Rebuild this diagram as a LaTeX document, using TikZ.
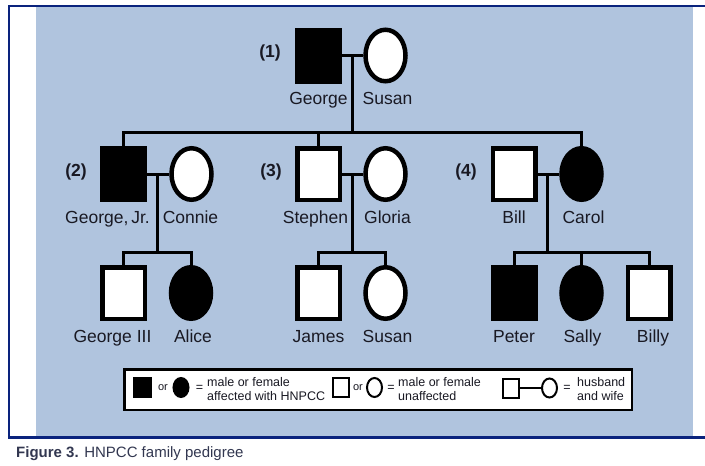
\documentclass[tikz,border=0pt]{standalone}
\usepackage{fontspec}
\setmainfont{Liberation Sans}
\usetikzlibrary{positioning,shapes.geometric}
\definecolor{panelblue}{RGB}{176,196,222}
\definecolor{framenavy}{RGB}{10,35,125}
\definecolor{captiongray}{RGB}{50,55,80}
\definecolor{inkdark}{RGB}{25,25,35}
\begin{document}
\begin{tikzpicture}[
        x=1pt, y=-1pt,
        male/.style={rectangle, draw=black, fill=white, line width=4.5pt, inner sep=0pt, minimum width=42.5pt, minimum height=51.5pt},
        female/.style={ellipse, draw=black, fill=white, line width=4.5pt, inner sep=0pt, minimum width=40pt, minimum height=51.5pt},
        affected/.style={fill=black},
        person/.style={inner sep=0pt, text=inkdark, font=\fontsize{17.5}{20}\selectfont},
        gen/.style={inner sep=0pt, text=inkdark, font=\fontsize{17.5}{20}\selectfont\bfseries},
        tie/.style={draw=black, line width=3pt},
        keybox/.style={rectangle, draw=black, fill=white, line width=2.5pt, minimum width=507.5pt, minimum height=40.5pt},
        keymale/.style={rectangle, draw=black, fill=white, line width=2pt, inner sep=0pt, minimum width=16pt, minimum height=19pt},
        keyfemale/.style={ellipse, draw=black, fill=white, line width=2pt, inner sep=0pt, minimum width=15pt, minimum height=19pt},
        keytext/.style={inner sep=0pt, align=left, anchor=west, text=inkdark, font=\fontsize{12.5}{13.5}\selectfont}
    ]
    \useasboundingbox (0,0) rectangle (705,466);

    % Panel and frame
    \fill[panelblue] (36,6.7) rectangle (693,436.7);
    \draw[framenavy, line width=2.5pt] (705,6) -- (9,6) -- (9,437.5) -- (705,437.5);
    \node[anchor=base west, inner sep=0pt, text=captiongray, font=\fontsize{15}{17}\selectfont] (caption) at (16,457) {\textbf{Figure 3.} HNPCC family pedigree};

    % Generation I
    \node[male, affected] (george) at (318.5,55.5) {};
    \node[female] (susan) at (385.5,55.5) {};
    \node[gen] (g1) at (270,53) {(1)};
    \node[person, below=9pt of george] (georgelbl) {George};
    \node[person, below=9pt of susan, xshift=2pt] (susanlbl) {Susan};

    % Generation II
    \node[male, affected] (georgejr) at (123.5,174) {};
    \node[female] (connie) at (191.5,174) {};
    \node[male] (stephen) at (318.5,174) {};
    \node[female] (gloria) at (385.5,174) {};
    \node[male] (bill) at (514,174) {};
    \node[female, affected] (carol) at (581.5,174) {};
    \node[gen] (g2) at (76,172) {(2)};
    \node[gen] (g3) at (271,172) {(3)};
    \node[gen] (g4) at (466,172) {(4)};
    \node[person, below=9pt of georgejr, xshift=-16pt] (georgejrlbl) {George,\,Jr.};
    \node[person, below=9pt of connie, xshift=-1pt] (connielbl) {Connie};
    \node[person, below=9pt of stephen, xshift=-3pt] (stephenlbl) {Stephen};
    \node[person, below=9pt of gloria, xshift=2pt] (glorialbl) {Gloria};
    \node[person, below=9pt of bill] (billlbl) {Bill};
    \node[person, below=9pt of carol, xshift=2pt] (carollbl) {Carol};

    % Generation III
    \node[male] (georgeiii) at (123.5,293) {};
    \node[female, affected] (alice) at (191,293) {};
    \node[male] (james) at (318.5,293) {};
    \node[female] (susanjr) at (385.5,293) {};
    \node[male, affected] (peter) at (514,293) {};
    \node[female, affected] (sally) at (581.5,293) {};
    \node[male] (billy) at (649,293) {};
    \node[person, below=9pt of georgeiii, xshift=-11pt] (georgeiiilbl) {George III};
    \node[person, below=9pt of alice, xshift=2pt] (alicelbl) {Alice};
    \node[person, below=9pt of james] (jameslbl) {James};
    \node[person, below=9pt of susanjr, xshift=2pt] (susanjrlbl) {Susan};
    \node[person, below=9pt of peter] (peterlbl) {Peter};
    \node[person, below=9pt of sally, xshift=1pt] (sallylbl) {Sally};
    \node[person, below=9pt of billy, xshift=4pt] (billylbl) {Billy};

    % Junctions
    \coordinate (m1) at (352.5,55.5);
    \coordinate (sib1) at (352.5,132);
    \coordinate (m2) at (157.5,174);
    \coordinate (sib2) at (157.5,252);
    \coordinate (m3) at (352.5,174);
    \coordinate (sib3) at (352.5,252);
    \coordinate (m4) at (547,174);
    \coordinate (sib4) at (547,252);

    % Lines
    \draw[tie] (george) -- (susan);
    \draw[tie] (m1) -- (sib1);
    \draw[tie] (georgejr.north) |- (sib1) -| (carol.north);
    \draw[tie] (stephen.north) -- (stephen.north |- sib1);

    \draw[tie] (georgejr) -- (connie);
    \draw[tie] (m2) -- (sib2);
    \draw[tie] (georgeiii.north) |- (sib2) -| (alice.north);

    \draw[tie] (stephen) -- (gloria);
    \draw[tie] (m3) -- (sib3);
    \draw[tie] (james.north) |- (sib3) -| (susanjr.north);

    \draw[tie] (bill) -- (carol);
    \draw[tie] (m4) -- (sib4);
    \draw[tie] (peter.north) |- (sib4) -| (billy.north);
    \draw[tie] (sally.north) -- (sally.north |- sib4);

    % Key
    \node[keybox] (key) at (378,389.5) {};
    \node[keymale, fill=black, minimum width=17pt] (kaffm) at (142.5,387.5) {};
    \node[keytext, anchor=center, font=\fontsize{11}{12}\selectfont] (kor1) at (163,388) {or};
    \node[keyfemale, fill=black] (kafff) at (181,387.5) {};
    \node[keytext, anchor=center] (keq1) at (199.5,388) {=};
    \node[keytext] (ktext1) at (207,389) {male or female\\affected with HNPCC};
    \node[keymale] (kunm) at (341,387.5) {};
    \node[keytext, anchor=center, font=\fontsize{11}{12}\selectfont] (kor2) at (358,388) {or};
    \node[keyfemale] (kunf) at (374.5,387.5) {};
    \node[keytext, anchor=center] (keq2) at (391,388) {=};
    \node[keytext] (ktext2) at (398,389) {male or female\\unaffected};
    \node[keymale] (khus) at (511,388) {};
    \node[keyfemale] (kwife) at (549.5,388) {};
    \draw[line width=2pt] (khus) -- (kwife);
    \node[keytext, anchor=center] (keq3) at (567,388) {=};
    \node[keytext] (ktext3) at (577,389) {husband\\and wife};

\end{tikzpicture}
\end{document}
